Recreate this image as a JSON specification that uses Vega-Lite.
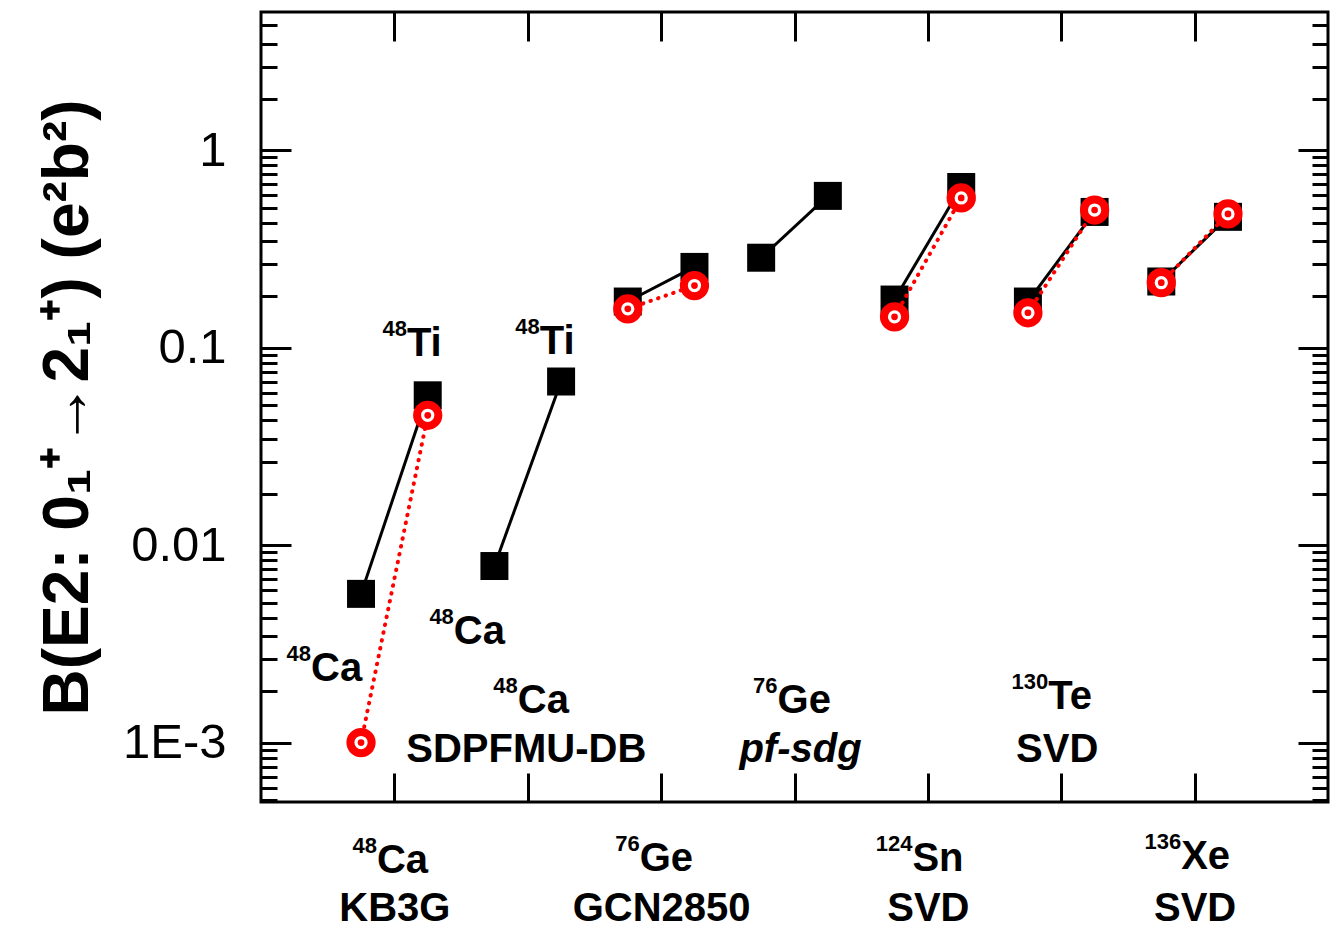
{
  "$schema": "https://vega.github.io/schema/vega-lite/v6.json",
  "width": 1067,
  "height": 790,
  "autosize": "none",
  "padding": {"left": 261, "top": 12, "right": 9, "bottom": 130},
  "background": "white",
  "config": {
    "view": {"stroke": "black", "strokeWidth": 3},
    "font": "Liberation Sans"
  },
  "datasets": {
    "pts": [
      {"x": 0.75, "y": 0.00566, "model": "black", "g": "1"},
      {"x": 1.25, "y": 0.0573, "model": "black", "g": "1"},
      {"x": 1.75, "y": 0.00783, "model": "black", "g": "2"},
      {"x": 2.25, "y": 0.0673, "model": "black", "g": "2"},
      {"x": 2.75, "y": 0.171, "model": "black", "g": "3"},
      {"x": 3.25, "y": 0.256, "model": "black", "g": "3"},
      {"x": 3.75, "y": 0.285, "model": "black", "g": "4"},
      {"x": 4.25, "y": 0.586, "model": "black", "g": "4"},
      {"x": 4.75, "y": 0.175, "model": "black", "g": "5"},
      {"x": 5.25, "y": 0.65, "model": "black", "g": "5"},
      {"x": 5.75, "y": 0.171, "model": "black", "g": "6"},
      {"x": 6.25, "y": 0.486, "model": "black", "g": "6"},
      {"x": 6.75, "y": 0.216, "model": "black", "g": "7"},
      {"x": 7.25, "y": 0.459, "model": "black", "g": "7"},
      {"x": 0.75, "y": 0.001, "model": "red", "g": "1"},
      {"x": 1.25, "y": 0.0454, "model": "red", "g": "1"},
      {"x": 2.75, "y": 0.157, "model": "red", "g": "3"},
      {"x": 3.25, "y": 0.206, "model": "red", "g": "3"},
      {"x": 4.75, "y": 0.143, "model": "red", "g": "5"},
      {"x": 5.25, "y": 0.572, "model": "red", "g": "5"},
      {"x": 5.75, "y": 0.15, "model": "red", "g": "6"},
      {"x": 6.25, "y": 0.497, "model": "red", "g": "6"},
      {"x": 6.75, "y": 0.213, "model": "red", "g": "7"},
      {"x": 7.25, "y": 0.475, "model": "red", "g": "7"}
    ],
    "nuc": [
      {"x": 1.094, "y": 0.0910, "mass": "48", "elem": "Ti"},
      {"x": 2.09, "y": 0.0931, "mass": "48", "elem": "Ti"},
      {"x": 0.375, "y": 0.00205, "mass": "48", "elem": "Ca"},
      {"x": 1.446, "y": 0.00316, "mass": "48", "elem": "Ca"},
      {"x": 1.925, "y": 0.00141, "mass": "48", "elem": "Ca"},
      {"x": 3.873, "y": 0.00141, "mass": "76", "elem": "Ge"},
      {"x": 5.903, "y": 0.00148, "mass": "130", "elem": "Te"},
      {"x": 0.869, "y": 0.000219, "mass": "48", "elem": "Ca"},
      {"x": 2.839, "y": 0.000224, "mass": "76", "elem": "Ge"},
      {"x": 4.884, "y": 0.000224, "mass": "124", "elem": "Sn"},
      {"x": 6.899, "y": 0.000229, "mass": "136", "elem": "Xe"}
    ],
    "labels": [
      {"x": 1.989, "y": 0.000798, "t": "SDPFMU-DB", "style": "normal"},
      {"x": 4.045, "y": 0.000798, "t": "pf-sdg", "style": "italic"},
      {"x": 5.97, "y": 0.000798, "t": "SVD", "style": "normal"}
    ]
  },
  "layer": [
    {
      "data": {"name": "pts"},
      "transform": [{"filter": "datum.model == 'black'"}],
      "mark": {"type": "line", "color": "black", "strokeWidth": 3},
      "encoding": {
        "x": {
          "field": "x", "type": "quantitative",
          "scale": {"domain": [0, 8], "nice": false, "zero": false},
          "axis": {
            "orient": "bottom", "values": [1, 2, 3, 4, 5, 6, 7], "grid": false, "domain": false,
            "tickSize": -29, "tickWidth": 3, "tickColor": "black",
            "labelExpr": "datum.value==1?'KB3G':datum.value==3?'GCN2850':datum.value==5?'SVD':datum.value==7?'SVD':''",
            "labelFont": "Liberation Sans", "labelFontWeight": "bold", "labelFontSize": 40,
            "labelPadding": 115, "labelColor": "black",
            "labelOverlap": false, "labelFlush": false, "title": null
          }
        },
        "y": {
          "field": "y", "type": "quantitative",
          "scale": {"type": "log", "domain": [0.0005, 5], "nice": false},
          "axis": {
            "orient": "left", "grid": false, "domain": false,
            "values": [0.001, 0.01, 0.1, 1,
              0.000509091, 0.000590909, 0.000672727, 0.000754545, 0.000836364, 0.000918182,
              0.00181818, 0.00263636, 0.00345455, 0.00427273, 0.00509091, 0.00590909, 0.00672727, 0.00754545, 0.00836364, 0.00918182,
              0.0181818, 0.0263636, 0.0345455, 0.0427273, 0.0509091, 0.0590909, 0.0672727, 0.0754545, 0.0836364, 0.0918182,
              0.181818, 0.263636, 0.345455, 0.427273, 0.509091, 0.590909, 0.672727, 0.754545, 0.836364, 0.918182,
              1.81818, 2.63636, 3.45455, 4.27273],
            "tickSize": {"condition": {"test": "datum.value==1||datum.value==0.1||datum.value==0.01||datum.value==0.001", "value": -30}, "value": -16},
            "tickWidth": 3, "tickColor": "black",
            "labelExpr": "datum.value==1?'1':datum.value==0.1?'0.1':datum.value==0.01?'0.01':datum.value==0.001?'1E-3':''",
            "labelFont": "Liberation Sans", "labelFontSize": 49, "labelPadding": 65, "labelColor": "black",
            "labelOverlap": false, "labelFlush": false,
            "title": "B(E2: 0₁⁺→2₁⁺) (e²b²)",
            "titleFont": "Liberation Sans", "titleFontWeight": "bold", "titleFontSize": 64,
            "titleColor": "black", "titlePadding": 22
          }
        },
        "detail": {"field": "g"}
      }
    },
    {
      "data": {"name": "pts"},
      "transform": [{"filter": "datum.model == 'black'"}],
      "mark": {"type": "point", "shape": "square", "filled": true, "color": "black", "size": 784, "opacity": 1},
      "encoding": {
        "x": {"field": "x", "type": "quantitative",
          "axis": {"orient": "top", "values": [1, 2, 3, 4, 5, 6, 7], "grid": false, "domain": false,
            "tickSize": -29, "tickWidth": 3, "tickColor": "black", "labels": false, "title": null}},
        "y": {"field": "y", "type": "quantitative",
          "axis": {"orient": "right", "grid": false, "domain": false,
            "values": [0.001, 0.01, 0.1, 1,
              0.000509091, 0.000590909, 0.000672727, 0.000754545, 0.000836364, 0.000918182,
              0.00181818, 0.00263636, 0.00345455, 0.00427273, 0.00509091, 0.00590909, 0.00672727, 0.00754545, 0.00836364, 0.00918182,
              0.0181818, 0.0263636, 0.0345455, 0.0427273, 0.0509091, 0.0590909, 0.0672727, 0.0754545, 0.0836364, 0.0918182,
              0.181818, 0.263636, 0.345455, 0.427273, 0.509091, 0.590909, 0.672727, 0.754545, 0.836364, 0.918182,
              1.81818, 2.63636, 3.45455, 4.27273],
            "tickSize": {"condition": {"test": "datum.value==1||datum.value==0.1||datum.value==0.01||datum.value==0.001", "value": -30}, "value": -16},
            "tickWidth": 3, "tickColor": "black", "labels": false, "title": null}}
      }
    },
    {
      "data": {"name": "pts"},
      "transform": [{"filter": "datum.model == 'red'"}],
      "mark": {"type": "line", "color": "#ff0000", "strokeWidth": 4, "strokeDash": [0.5, 7.5], "strokeCap": "round"},
      "encoding": {
        "x": {"field": "x", "type": "quantitative", "axis": null},
        "y": {"field": "y", "type": "quantitative", "axis": null},
        "detail": {"field": "g"}
      }
    },
    {
      "data": {"name": "pts"},
      "transform": [{"filter": "datum.model == 'red'"}],
      "mark": {"type": "point", "shape": "circle", "filled": false, "fill": "white", "fillOpacity": 1, "stroke": "#ff0000", "strokeWidth": 8, "size": 452, "opacity": 1},
      "encoding": {
        "x": {"field": "x", "type": "quantitative", "axis": null},
        "y": {"field": "y", "type": "quantitative", "axis": null}
      }
    },
    {
      "data": {"name": "pts"},
      "transform": [{"filter": "datum.model == 'red'"}],
      "mark": {"type": "point", "shape": "circle", "filled": true, "color": "#ff0000", "size": 45, "opacity": 1},
      "encoding": {
        "x": {"field": "x", "type": "quantitative", "axis": null},
        "y": {"field": "y", "type": "quantitative", "axis": null}
      }
    },
    {
      "data": {"name": "nuc"},
      "mark": {"type": "text", "font": "Liberation Sans", "fontWeight": "bold", "fontSize": 40, "align": "left", "baseline": "alphabetic", "color": "black"},
      "encoding": {
        "x": {"field": "x", "type": "quantitative", "axis": null},
        "y": {"field": "y", "type": "quantitative", "axis": null},
        "text": {"field": "elem"}
      }
    },
    {
      "data": {"name": "nuc"},
      "mark": {"type": "text", "font": "Liberation Sans", "fontWeight": "bold", "fontSize": 22, "align": "right", "baseline": "alphabetic", "dy": -20, "color": "black"},
      "encoding": {
        "x": {"field": "x", "type": "quantitative", "axis": null},
        "y": {"field": "y", "type": "quantitative", "axis": null},
        "text": {"field": "mass"}
      }
    },
    {
      "data": {"name": "labels"},
      "transform": [{"filter": "datum.style == 'normal'"}],
      "mark": {"type": "text", "font": "Liberation Sans", "fontWeight": "bold", "fontSize": 40, "align": "center", "baseline": "alphabetic", "color": "black"},
      "encoding": {
        "x": {"field": "x", "type": "quantitative", "axis": null},
        "y": {"field": "y", "type": "quantitative", "axis": null},
        "text": {"field": "t"}
      }
    },
    {
      "data": {"name": "labels"},
      "transform": [{"filter": "datum.style == 'italic'"}],
      "mark": {"type": "text", "font": "Liberation Sans", "fontWeight": "bold", "fontStyle": "italic", "fontSize": 40, "align": "center", "baseline": "alphabetic", "color": "black"},
      "encoding": {
        "x": {"field": "x", "type": "quantitative", "axis": null},
        "y": {"field": "y", "type": "quantitative", "axis": null},
        "text": {"field": "t"}
      }
    }
  ],
  "resolve": {"axis": {"x": "independent", "y": "independent"}}
}
